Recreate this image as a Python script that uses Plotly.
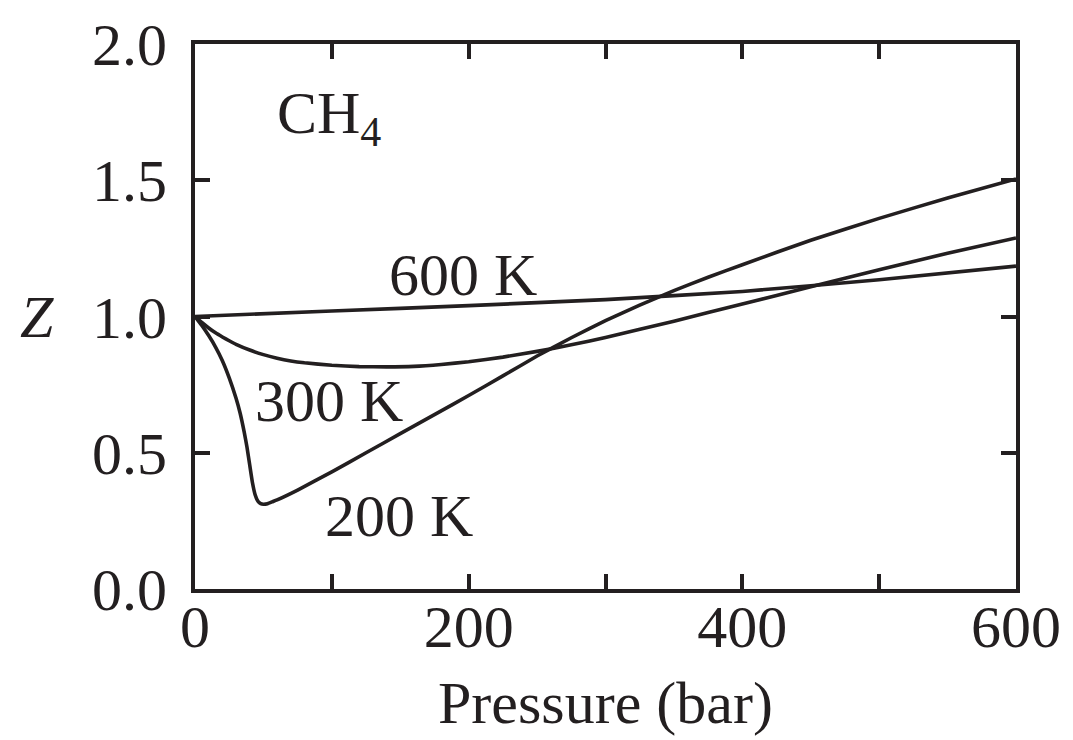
import plotly.graph_objects as go

# Compressibility factor Z of CH4 vs pressure (bar)
p_200 = [0, 5, 10, 15, 20, 25, 30, 33, 36, 38, 40, 42, 44, 46, 48, 50, 53, 57, 60, 75,
         100, 125, 150, 175, 200, 225, 250, 275, 300, 325, 350, 375, 400, 450, 500, 550, 600]
z_200 = [1.0, 0.967, 0.93, 0.888, 0.838, 0.775, 0.70, 0.645, 0.575, 0.52, 0.455, 0.39,
         0.345, 0.322, 0.313, 0.311, 0.313, 0.321, 0.327, 0.363, 0.43, 0.50, 0.57, 0.64,
         0.71, 0.782, 0.855, 0.922, 0.985, 1.042, 1.095, 1.144, 1.19, 1.28, 1.36, 1.435, 1.505]

p_300 = [0, 5, 10, 15, 20, 25, 30, 40, 50, 60, 70, 80, 100, 120, 140, 160, 180, 200, 225,
         250, 275, 300, 350, 400, 450, 500, 550, 600]
z_300 = [1.0, 0.978, 0.958, 0.94, 0.925, 0.911, 0.898, 0.877, 0.86, 0.847, 0.837, 0.83,
         0.821, 0.816, 0.815, 0.817, 0.824, 0.834, 0.851, 0.872, 0.896, 0.923, 0.983,
         1.046, 1.109, 1.172, 1.232, 1.288]

p_600 = [0, 100, 200, 300, 400, 500, 600]
z_600 = [1.0, 1.02, 1.04, 1.062, 1.092, 1.135, 1.185]

x_ticks = [0, 100, 200, 300, 400, 500, 600]
x_ticktext = ["0", "", "200", "", "400", "", "600"]
y_ticks = [0.0, 0.5, 1.0, 1.5, 2.0]
y_ticktext = ["0.0", "0.5", "1.0", "1.5", "2.0"]

INK = "#231f20"
FONT = "Liberation Serif"
FS = 60

fig = go.Figure()
for px_, pz in [(p_200, z_200), (p_300, z_300), (p_600, z_600)]:
    fig.add_trace(go.Scatter(x=px_, y=pz, mode="lines",
                             line=dict(color=INK, width=3.6, shape="spline", smoothing=0.4),
                             showlegend=False, hoverinfo="skip"))

axis_common = dict(showline=True, linewidth=4, linecolor=INK, mirror="ticks",
                   ticks="inside", ticklen=15, tickwidth=4, tickcolor=INK,
                   showgrid=False, zeroline=False,
                   tickfont=dict(family=FONT, size=FS, color=INK))

fig.update_xaxes(range=[0, 600], tickmode="array", tickvals=x_ticks, ticktext=x_ticktext,
                 ticklabelstandoff=-18, **axis_common)
fig.update_yaxes(range=[0, 2.0], tickmode="array", tickvals=y_ticks, ticktext=y_ticktext,
                 ticklabelstandoff=12, **axis_common)

ann = dict(showarrow=False, font=dict(family=FONT, size=FS, color=INK))
fig.add_annotation(x=196, y=1.152, xref="x", yref="y", text="600 K", **ann)
fig.add_annotation(x=98, y=0.69, xref="x", yref="y", text="300 K", **ann)
fig.add_annotation(x=149, y=0.267, xref="x", yref="y", text="200 K", **ann)
fig.add_annotation(x=98, y=1.73, xref="x", yref="y", text="CH<sub>4</sub>", **ann)
fig.add_annotation(x=0.5, y=-0.209, xref="paper", yref="paper", yanchor="middle",
                   text="Pressure (bar)", **ann)
fig.add_annotation(x=-0.193, y=1.0, xref="paper", yref="y", xanchor="center",
                   text="<i>Z</i>", **ann)

fig.update_layout(width=1073, height=740, margin=dict(l=195, r=51, t=35, b=151),
                  paper_bgcolor="white", plot_bgcolor="white")

fig.write_html("out.html")
